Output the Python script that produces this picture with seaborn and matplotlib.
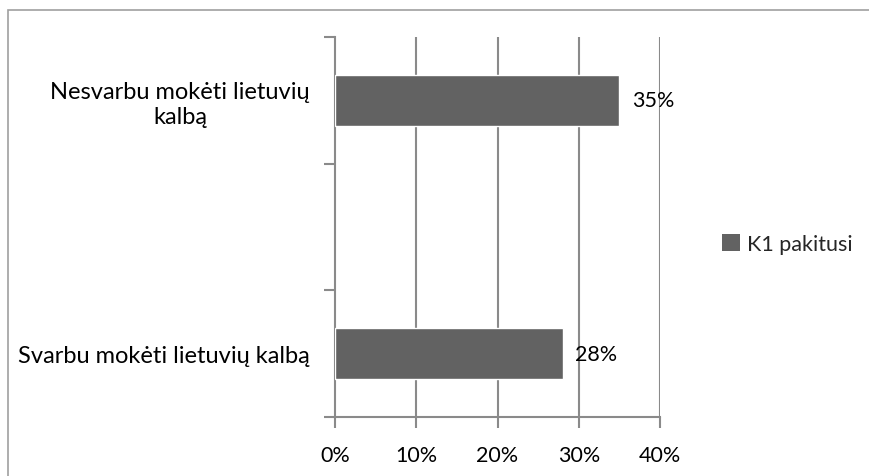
import numpy as np
import pandas as pd
import matplotlib
matplotlib.use("Agg")
import matplotlib.pyplot as plt
import seaborn as sns
from matplotlib.patches import Rectangle, Patch

# ===============================
# Data
# ===============================
categories = ["Nesvarbu mokėti lietuvių\nkalbą", "", "Svarbu mokėti lietuvių kalbą"]
values = [35, np.nan, 28]          # percent, middle category is empty
value_labels = ["35%", "", "28%"]
x_ticks = [0, 10, 20, 30, 40]
x_tick_labels = ["0%", "10%", "20%", "30%", "40%"]
series_name = "K1 pakitusi"

df = pd.DataFrame({"cat": categories, "val": values})

# ===============================
# Style
# ===============================
sns.set_style("white")
plt.rcParams["font.family"] = ["Lato", "DejaVu Sans"]
bar_color = "#626262"
grid_color = "#8a8a8a"
fs = 15.5
fs_cat = 17

W, H = 869, 477
fig = plt.figure(figsize=(W / 100, H / 100), dpi=100)
ax = fig.add_axes([335 / W, 1 - 418 / H, (660 - 335) / W, (418 - 38) / H])

sns.barplot(data=df.dropna(), x="val", y="cat", order=categories, orient="h",
            color=bar_color, saturation=1, width=0.4, ax=ax, zorder=3)

ax.set_xlim(0, 40)
ax.set_ylim(2.5, -0.5)
ax.set_xlabel("")
ax.set_ylabel("")

# vertical gridlines
ax.set_xticks(x_ticks, labels=x_tick_labels)
for x in x_ticks[1:]:
    ax.axvline(x, color=grid_color, lw=1.5, zorder=1)

# y ticks at category boundaries, labels in between
ax.set_yticks([-0.5, 0.5, 1.5, 2.5], labels=[""] * 4)
ax.set_yticks([0, 1, 2], labels=categories, minor=True)
for lab in ax.get_yticklabels(minor=True):
    lab.set_multialignment("center")
ax.tick_params(axis="y", which="minor", length=0, pad=18, labelsize=fs_cat, colors="black")
ax.tick_params(axis="y", which="major", length=8, width=1.5, color=grid_color, direction="out", left=True)
ax.tick_params(axis="x", length=8, width=1.5, color=grid_color, direction="out", bottom=True,
               pad=12, labelsize=fs, labelcolor="black")

for side in ["top", "right"]:
    ax.spines[side].set_visible(False)
for side in ["left", "bottom"]:
    ax.spines[side].set_color(grid_color)
    ax.spines[side].set_linewidth(1.5)

# data labels
for i, (v, t) in enumerate(zip(values, value_labels)):
    if not np.isnan(v):
        ax.text(v + 1.6, i, t, va="center", ha="left", fontsize=fs, color="black", zorder=4)

# legend
handle = Patch(facecolor=bar_color, edgecolor="none", label=series_name)
fig.legend(handles=[handle], loc="center left", bbox_to_anchor=(703 / W, 1 - 245 / H),
           frameon=False, fontsize=fs, handlelength=0.8, handleheight=0.8, handletextpad=0.35)

# outer chart border
fig.patches.append(Rectangle((8 / W, -0.1), 1.2, 1 - 11 / H + 0.1, transform=fig.transFigure,
                             fill=False, edgecolor="#a0a0a0", lw=1.2))

fig.savefig("out.png", dpi=100)
